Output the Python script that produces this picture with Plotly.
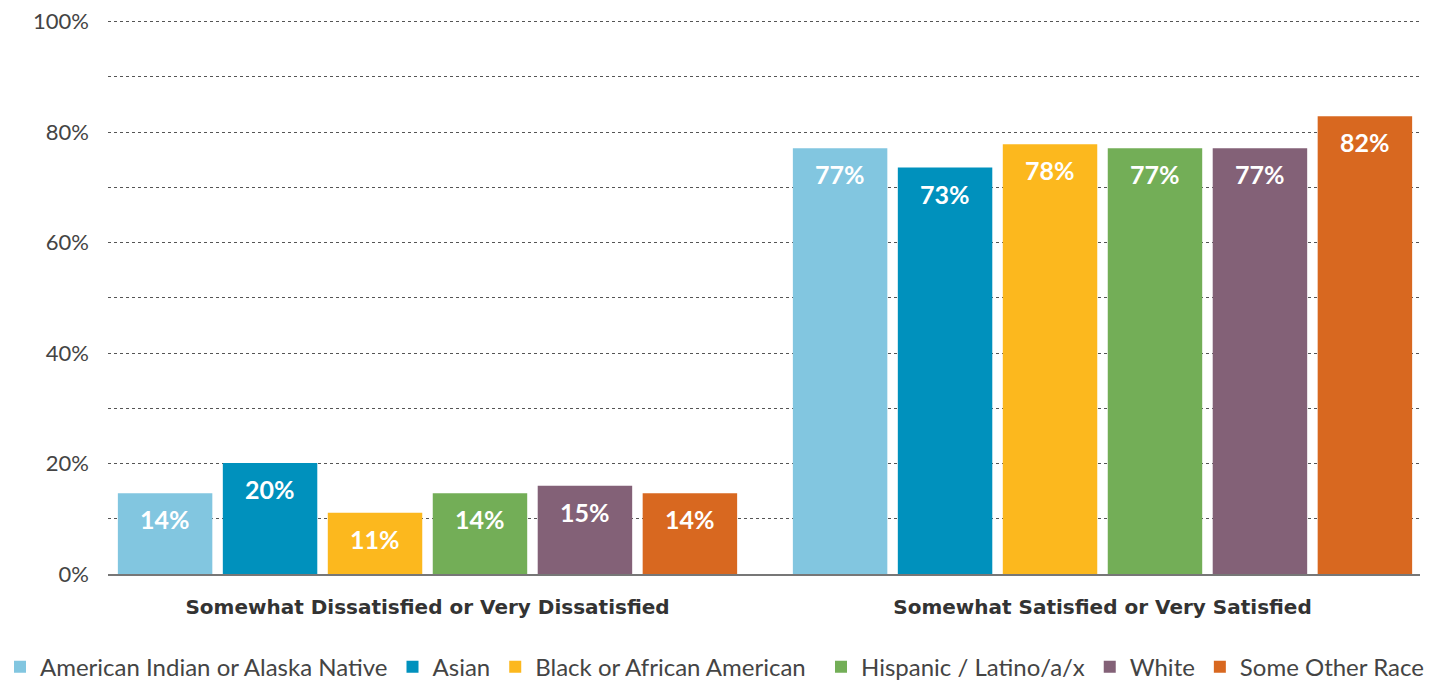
import plotly.graph_objects as go

categories = ["Somewhat Dissatisfied or Very Dissatisfied", "Somewhat Satisfied or Very Satisfied"]
series_names = ["American Indian or Alaska Native", "Asian", "Black or African American",
                "Hispanic / Latino/a/x", "White", "Some Other Race"]
# bar heights as drawn (percent)
bar_values = [
    [14.6, 77.1],
    [20.1, 73.6],
    [11.1, 77.8],
    [14.6, 77.1],
    [16.0, 77.1],
    [14.6, 82.9],
]
# published labels
bar_labels = [
    ["14%", "77%"],
    ["20%", "73%"],
    ["11%", "78%"],
    ["14%", "77%"],
    ["15%", "77%"],
    ["14%", "82%"],
]
colors = ["#82C6E0", "#0091BD", "#FCB81E", "#73AE57", "#836177", "#D86820"]
ytick_vals = [0, 10, 20, 30, 40, 50, 60, 70, 80, 90, 100]
ytick_text = ["0%", "", "20%", "", "40%", "", "60%", "", "80%", "", "100%"]

FONT = "Lato"
BARGAP = 0.067
GROUPGAP = 0.1

fig = go.Figure()
n = len(series_names)
for i, name in enumerate(series_names):
    fig.add_trace(go.Bar(
        name=name, x=categories, y=bar_values[i],
        marker=dict(color=colors[i], line=dict(width=0)),
        hoverinfo="skip",
        legend="legend" if i < 3 else "legend2",
    ))

# value labels inside top of bars
slot = (1 - BARGAP) / n
for i in range(n):
    for j in range(len(categories)):
        fig.add_annotation(
            x=j + (i - (n - 1) / 2) * slot, y=bar_values[i][j], xref="x", yref="y",
            text=f"<b>{bar_labels[i][j]}</b>", showarrow=False,
            yanchor="middle", yshift=-26,
            font=dict(family=FONT, size=25, color="white"),
        )

legend_common = dict(
    orientation="h", xref="container", yref="container",
    xanchor="left", y=0.026, yanchor="middle",
    font=dict(family=FONT, size=24, color="#444444"),
    traceorder="normal", bgcolor="rgba(0,0,0,0)",
)

fig.update_layout(
    width=1439, height=685,
    margin=dict(l=108, r=19, t=19, b=111, autoexpand=False),
    paper_bgcolor="white", plot_bgcolor="white",
    barmode="group", bargap=BARGAP, bargroupgap=GROUPGAP,
    font=dict(family=FONT, color="#444444"),
    showlegend=True,
    legend=dict(x=0.0, **legend_common),
    legend2=dict(x=821 / 1439, **legend_common),
    xaxis=dict(
        type="category", automargin=False,
        range=[-0.5 + 18 / 675, 1.5 - 20 / 675],
        showline=True, linecolor="#777777", linewidth=2,
        ticks="", showgrid=False,
        tickfont=dict(family="DejaVu Sans", size=20, color="#333333"),
        ticklabelstandoff=14,
        tickvals=categories,
        ticktext=[f"<b>{c}</b>" for c in categories],
    ),
    yaxis=dict(
        range=[0, 100.5], tickvals=ytick_vals, ticktext=ytick_text,
        automargin=False,
        showgrid=True, gridcolor="#555555", gridwidth=1, griddash="dot",
        zeroline=False, showline=False, ticks="",
        tickfont=dict(family=FONT, size=22, color="#444444"),
        ticklabelstandoff=18,
    ),
)

fig.write_html("out.html")
